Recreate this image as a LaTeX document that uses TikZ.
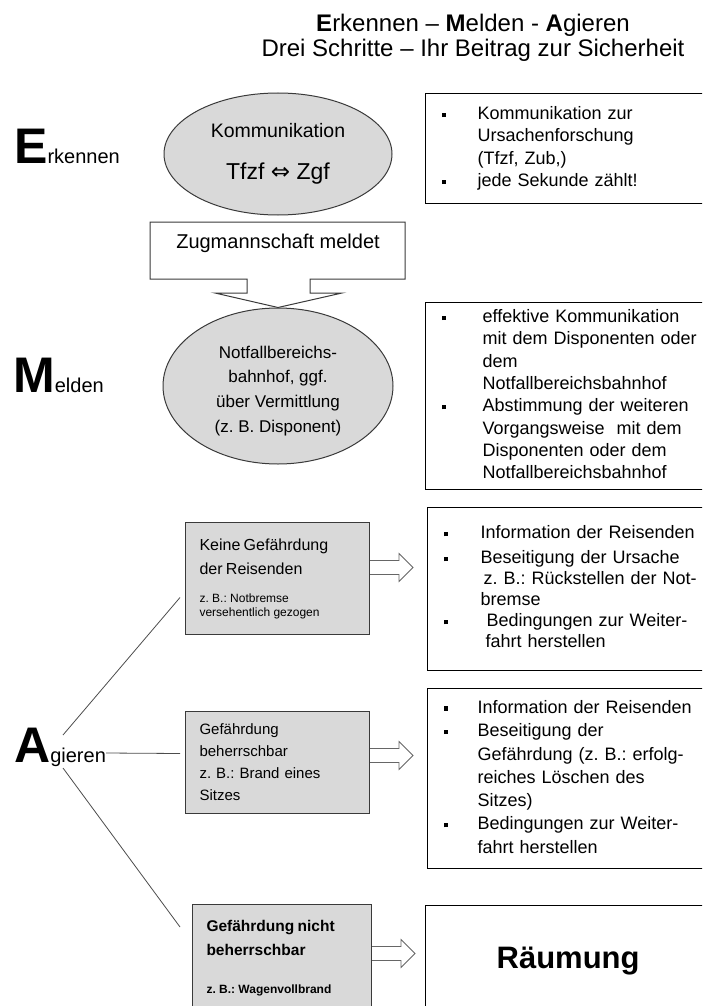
\documentclass[tikz,border=0pt]{standalone}
\usepackage{fontspec}
\setmainfont{Liberation Sans}
\newfontfamily\pfeilfont{DejaVu Sans}
\usepackage{xcolor}
\definecolor{fillgrau}{HTML}{D9D9D9}
\definecolor{randgrau}{HTML}{3A3A3A}
\usepackage{tikz}
\usetikzlibrary{shapes.geometric,positioning,calc}
\newcommand{\blt}{\rule[2.5pt]{4pt}{4.5pt}}
\frenchspacing

\begin{document}
\begin{tikzpicture}[
  x=1pt,
  y=-1pt,
  oval/.style={ellipse, draw=randgrau, line width=1pt, fill=fillgrau, inner sep=0pt, align=center},
  fallbox/.style={rectangle, draw=randgrau, line width=1pt, fill=fillgrau, anchor=north west, inner xsep=14pt, inner ysep=0pt, text width=156pt, align=left},
  massbox/.style={rectangle, draw=black, line width=1.3pt, anchor=north west, inner xsep=16pt, inner ysep=0pt, text width=253pt, align=left},
  stufe/.style={anchor=base west, font=\fontsize{20}{20}\selectfont, inner sep=0pt},
  ast/.style={draw=black!70, line width=0.8pt},
  hohlpfeil/.style={draw=black!60, line width=0.8pt, fill=white},
]

% Rahmen
\useasboundingbox (0,0) rectangle (702,1006);
\clip (0,0) rectangle (702,1006);

% Titel
\node[anchor=base, font=\fontsize{24}{28}\selectfont] (titel) at (473,32) {\textbf{E}rkennen – \textbf{M}elden - \textbf{A}gieren};
\node[anchor=base, font=\fontsize{24}{28}\selectfont] (untertitel) at (473,57) {Drei Schritte – Ihr Beitrag zur Sicherheit};

% Stufen links
\node[stufe] (labE) at (14,163) {{\fontsize{50}{50}\selectfont\bfseries E}rkennen};
\node[stufe] (labM) at (13,392) {{\fontsize{50}{50}\selectfont\bfseries M}elden};
\node[stufe] (labA) at (14,762) {{\fontsize{50}{50}\selectfont\bfseries A}gieren};

% Erkennen
\node[oval, minimum width=228pt, minimum height=122pt, font=\fontsize{19.5}{22}\selectfont] (ellE) at (278,154)
  {Kommunikation\\[20pt]{\fontsize{23}{26}\selectfont Tfzf {\pfeilfont ⇔} Zgf}};
\node[massbox, minimum height=110pt, font=\fontsize{18}{22.3}\selectfont] (resE) at (425,93) {%
  \begin{tabular}{@{}p{36pt}@{}l@{}}
  \blt & Kommunikation zur\\
       & Ursachenforschung\\
       & (Tfzf, Zub,)\\
  \blt & jede Sekunde zählt!
  \end{tabular}};

% Melden
\node[oval, minimum width=230pt, minimum height=156pt, font=\fontsize{17}{24.7}\selectfont] (ellM) at (278,386)
  {\rule{0pt}{22pt}Notfallbereichs-\\bahnhof, ggf.\\über Vermittlung\\(z. B. Disponent)};
\draw[draw=randgrau, line width=1pt, fill=white] (150,222) -- (405,222) -- (405,279) -- (310,279) -- (310,293)
  -- (342,293) -- (ellM.north) -- (215,293) -- (247,293) -- (247,279) -- (150,279) -- cycle;
\node[font=\fontsize{20}{24}\selectfont] (zug) at (278,243) {Zugmannschaft meldet};
\node[massbox, minimum height=187pt, font=\fontsize{18}{22.3}\selectfont] (resM) at (425,302) {%
  \begin{tabular}{@{}p{41pt}@{}l@{}}
  \blt & effektive Kommunikation\\
       & mit dem Disponenten oder\\
       & dem\\
       & Notfallbereichsbahnhof\\
  \blt & Abstimmung der weiteren\\
       & Vorgangsweise~ mit dem\\
       & Disponenten oder dem\\
       & Notfallbereichsbahnhof
  \end{tabular}};

% Agieren: Faelle
\node[fallbox, minimum height=112pt] (gA) at (185,522)
  {{\fontsize{16}{24}\selectfont Keine Gefährdung\\der Reisenden\par}\vspace{14pt}%
   {\fontsize{12}{14}\selectfont z. B.: Notbremse\\versehentlich gezogen\par}};
\node[fallbox, minimum height=102pt, font=\fontsize{15}{22}\selectfont] (gB) at (185,711)
  {Gefährdung\\beherrschbar\\z. B.: Brand eines\\Sitzes};
\node[fallbox, minimum height=108pt, text width=151pt] (gC) at (192,904)
  {{\fontsize{15.5}{24}\selectfont\bfseries Gefährdung nicht\\beherrschbar\par}\vspace{24pt}%
   {\fontsize{12}{14}\selectfont\bfseries z. B.: Wagenvollbrand\par}};

% Agieren: Massnahmen
\node[massbox, minimum height=163pt, font=\fontsize{18}{21}\selectfont] (resA) at (427,507) {%
  \begin{tabular}{@{}p{37pt}@{}l@{}}
  \blt & Information der Reisenden\\[4pt]
  \blt & Beseitigung der Ursache\\
       & \hspace{3pt}z. B.: Rückstellen der Not-\\
       & bremse\\
  \blt & \hspace{6pt}Bedingungen zur Weiter-\\
       & \hspace{5pt}fahrt herstellen
  \end{tabular}};
\node[massbox, minimum height=180pt, font=\fontsize{18}{23.3}\selectfont] (resB) at (427,688) {%
  \begin{tabular}{@{}p{34pt}@{}l@{}}
  \blt & Information der Reisenden\\
  \blt & Beseitigung der\\
       & Gefährdung (z. B.: erfolg-\\
       & reiches Löschen des\\
       & Sitzes)\\
  \blt & Bedingungen zur Weiter-\\
       & fahrt herstellen
  \end{tabular}};
\node[massbox, minimum height=110pt, align=center, font=\fontsize{31}{34}\selectfont\bfseries] (resC) at (425,905) {Räumung};

% Verzweigung
\coordinate (aOben) at (63,735);
\coordinate (aUnten) at (63,768);
\draw[ast] (aOben) -- ($(gA.west)+(-5,19)$);
\draw[ast] ([yshift=9pt]labA.base east) -- ($(gB.west)+(-5,-9)$);
\draw[ast] (aUnten) -- ($(gC.north west)+(-12,23)$);

% Hohlpfeile
\foreach \g/\dy in {gA/-11, gB/-7, gC/-5}
  \draw[hohlpfeil] ($(\g.east)+(0,\dy-7)$) -- ++(29,0) -- ++(0,-7) -- ++(14,14)
    -- ++(-14,14) -- ++(0,-7) -- ++(-29,0);

\end{tikzpicture}
\end{document}
